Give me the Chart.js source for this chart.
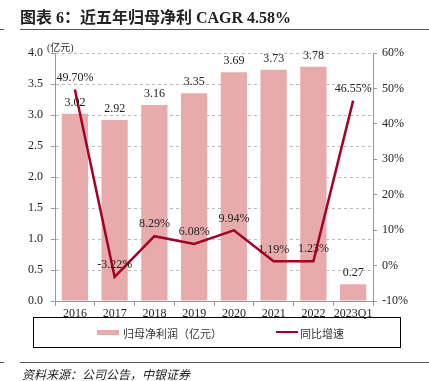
<!DOCTYPE html>
<html lang="zh">
<head>
    <meta charset="UTF-8">
    <title>近五年归母净利 CAGR 4.58%</title>
    <script src="https://cdn.jsdelivr.net/npm/chart.js"></script>
    <style>
        body {
    margin: 0;
    background-color: #FFF;
    font-family: "Liberation Serif", "Noto Sans CJK SC", serif;
    color: #222;
}
#wrap {
    position: relative;
    width: 429px;
    height: 381px;
    overflow: hidden;
}
#myChart {
    position: absolute;
    left: 0;
    top: 0;
}
.title {
    position: absolute;
    left: 20px;
    top: 4px;
    font-size: 16px;
    font-weight: bold;
    white-space: nowrap;
}
.rule {
    position: absolute;
    height: 1px;
    background-color: #555;
}
.unit {
    position: absolute;
    left: 47px;
    top: 39px;
    font-size: 10px;
    color: #333;
}
.legend {
    position: absolute;
    left: 33px;
    top: 317px;
    width: 366px;
    height: 29px;
    border: 1px solid #000;
    font-size: 11px;
    color: #333;
}
.legend span {
    position: absolute;
    top: 7px;
    white-space: nowrap;
}
.swatch {
    position: absolute;
}
.source {
    position: absolute;
    left: 22px;
    top: 365px;
    font-size: 12px;
    font-style: italic;
    white-space: nowrap;
}
    </style>
</head>
<body>
<div id="wrap">
    <canvas id="myChart" width="429" height="381"></canvas>
    <div class="title">图表 6：近五年归母净利 CAGR 4.58%</div>
    <div class="rule" style="left:20px; top:29px; width:409px;"></div>
    <div class="rule" style="left:0; top:29px; width:4px;"></div>
    <div class="unit">(亿元)</div>
    <div class="legend" id="legend"></div>
    <div class="rule" style="left:20px; top:362px; width:409px;"></div>
    <div class="rule" style="left:0; top:362px; width:4px;"></div>
    <div class="source">资料来源：公司公告，中银证券</div>
</div>

<script>
    // data
    const years = ['2016', '2017', '2018', '2019', '2020', '2021', '2022', '2023Q1'];
    const netProfit = [3.02, 2.92, 3.16, 3.35, 3.69, 3.73, 3.78, 0.27];
    const yoyGrowth = [49.70, -3.22, 8.29, 6.08, 9.94, 1.19, 1.23, 46.55];

    const barColor = '#E8ABAB';
    const lineColor = '#A50026';
    const axisColor = '#999';
    const tickFont = { family: '"Liberation Serif", serif', size: 12 };

    // value labels above bars and points
    const valueLabels = {
        id: 'valueLabels',
        afterDatasetsDraw(chart) {
            const ctx = chart.ctx;
            ctx.save();
            ctx.font = '12px "Liberation Serif", serif';
            ctx.fillStyle = '#222';
            ctx.textAlign = 'center';
            ctx.textBaseline = 'middle';
            chart.getDatasetMeta(1).data.forEach((bar, i) => {
                ctx.fillText(netProfit[i].toFixed(2), bar.x, bar.y - 11);
            });
            chart.getDatasetMeta(0).data.forEach((pt, i) => {
                ctx.fillText(yoyGrowth[i].toFixed(2) + '%', pt.x, pt.y - 12);
            });
            ctx.restore();
        }
    };

    const ctx = document.getElementById('myChart').getContext('2d');
    const chart = new Chart(ctx, {
        data: {
            labels: years,
            datasets: [{
                type: 'line',
                label: '同比增速',
                data: yoyGrowth,
                yAxisID: 'y1',
                borderColor: lineColor,
                backgroundColor: lineColor,
                borderWidth: 2.5,
                pointRadius: 0,
                tension: 0,
                order: 0
            }, {
                type: 'bar',
                label: '归母净利润（亿元）',
                data: netProfit,
                yAxisID: 'y',
                backgroundColor: barColor,
                categoryPercentage: 1,
                barPercentage: 0.66,
                order: 1
            }]
        },
        options: {
            responsive: false,
            devicePixelRatio: 1,
            animation: false,
            layout: { padding: { left: 15, right: 16, top: 53, bottom: 60 } },
            plugins: {
                legend: { display: false },
                tooltip: { enabled: false }
            },
            scales: {
                x: {
                    offset: true,
                    grid: { display: true, drawOnChartArea: false, offset: true, tickLength: 5, color: axisColor },
                    border: { color: axisColor },
                    ticks: { font: tickFont, color: '#222', padding: 1, maxRotation: 0, autoSkip: false },
                    afterFit: s => { s.height = 20; }
                },
                y: {
                    position: 'left',
                    min: 0,
                    max: 4,
                    ticks: { stepSize: 0.5, font: tickFont, color: '#222', padding: 8,
                        callback: v => v.toFixed(1) },
                    grid: { color: '#BBB', tickColor: axisColor, tickLength: 4 },
                    border: { color: axisColor, dash: [3, 3] },
                    afterFit: s => { s.width = 40; }
                },
                y1: {
                    position: 'right',
                    min: -10,
                    max: 60,
                    ticks: { stepSize: 10, font: tickFont, color: '#222', padding: 5,
                        callback: v => v + '%' },
                    grid: { drawOnChartArea: false, tickColor: axisColor, tickLength: 4 },
                    border: { color: axisColor },
                    afterFit: s => { s.width = 40; }
                }
            }
        },
        plugins: [valueLabels]
    });

    // legend built from the datasets
    const legend = document.getElementById('legend');
    const bar = chart.data.datasets[1];
    const line = chart.data.datasets[0];
    legend.innerHTML =
        '<div class="swatch" style="left:63px; top:12px; width:22px; height:5px; background:' + bar.backgroundColor + '"></div>' +
        '<span style="left:89px">' + bar.label + '</span>' +
        '<div class="swatch" style="left:242px; top:13px; width:22px; height:2px; background:' + line.borderColor + '"></div>' +
        '<span style="left:266px">' + line.label + '</span>';
</script>
</body>
</html>
